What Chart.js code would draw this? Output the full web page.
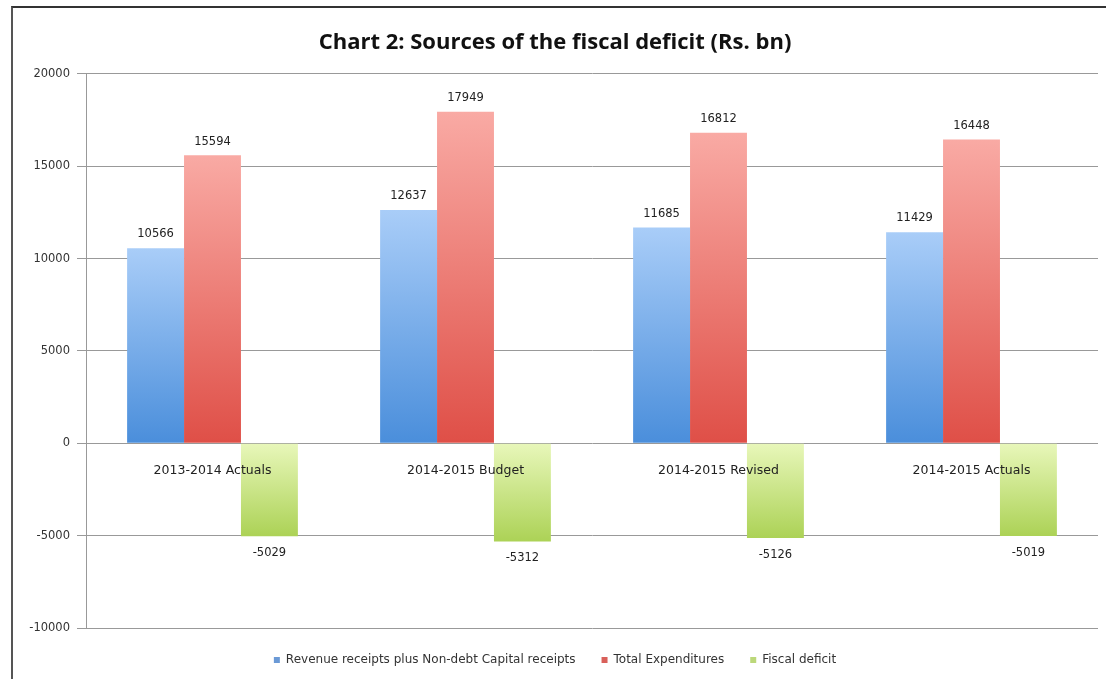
<!DOCTYPE html>
<html lang="en">
<head>
  <meta charset="UTF-8">
  <title>Chart 2: Sources of the fiscal deficit</title>
  <style>
    html, body { margin: 0; padding: 0; background: #fff; }
    .frame {
      position: absolute; left: 11px; top: 6px; right: 0; bottom: 0;
      border-top: 2px solid #333; border-left: 2px solid #555;
    }
    .box { position: absolute; left: 0; top: 0; width: 1106px; height: 679px; }
  </style>
</head>
<body>
  <div class="frame"></div>
  <div class="box"><canvas id="barChart"></canvas></div>

<script src="https://cdn.jsdelivr.net/npm/chart.js"></script>
<script>
  // datos del grafico
  const categorias = ['2013-2014 Actuals', '2014-2015 Budget', '2014-2015 Revised', '2014-2015 Actuals'];
  const ingresos = [10566, 12637, 11685, 11429];
  const gastos = [15594, 17949, 16812, 16448];
  const deficit = [-5029, -5312, -5126, -5019];
  const ticksY = [-10000, -5000, 0, 5000, 10000, 15000, 20000];

  const fuente = '"DejaVu Sans", "Liberation Sans", sans-serif';
  const fuenteTitulo = '"Open Sans", "DejaVu Sans", sans-serif';

  // degradado vertical por barra, de la punta hacia el cero
  function degradado(claro, oscuro) {
    return (ctx) => {
      const chart = ctx.chart;
      if (!chart.chartArea || ctx.dataIndex === undefined) return oscuro;
      const y = chart.scales.y;
      const v = ctx.dataset.data[ctx.dataIndex];
      const p0 = y.getPixelForValue(0);
      const p1 = y.getPixelForValue(v);
      const g = chart.ctx.createLinearGradient(0, Math.min(p0, p1), 0, Math.max(p0, p1));
      g.addColorStop(0, claro);
      g.addColorStop(1, oscuro);
      return g;
    };
  }

  const colorLeyenda = ['#6b9ad6', '#d9605a', '#bcd87a'];

  // etiquetas de valor encima / debajo de cada barra
  const etiquetas = {
    id: 'etiquetas',
    afterDatasetsDraw(chart) {
      const c = chart.ctx;
      c.save();
      c.font = '11.5px ' + fuente;
      c.fillStyle = '#222';
      c.textAlign = 'center';
      chart.data.datasets.forEach((ds, i) => {
        chart.getDatasetMeta(i).data.forEach((bar, j) => {
          const v = ds.data[j];
          if (v >= 0) {
            c.textBaseline = 'bottom';
            c.fillText(v, bar.x, bar.y - 8);
          } else {
            c.textBaseline = 'top';
            c.fillText(v, bar.x, bar.y + 11);
          }
        });
      });
      c.restore();
    }
  };

  new Chart(document.getElementById('barChart'), {
    type: 'bar',
    data: {
      labels: categorias,
      datasets: [
        { label: 'Revenue receipts plus Non-debt Capital receipts', data: ingresos,
          backgroundColor: degradado('#a9cdf8', '#4a8edb') },
        { label: 'Total Expenditures', data: gastos,
          backgroundColor: degradado('#f9aaa4', '#df4f47') },
        { label: 'Fiscal deficit', data: deficit,
          backgroundColor: degradado('#e8f7ba', '#acd256') }
      ]
    },
    options: {
      responsive: true,
      maintainAspectRatio: false,
      animation: false,
      categoryPercentage: 0.675,
      barPercentage: 1,
      layout: { padding: { left: 12, right: 8, top: 0, bottom: 3 } },
      plugins: {
        title: {
          display: true,
          text: 'Chart 2: Sources of the fiscal deficit (Rs. bn)',
          color: '#111',
          font: { family: fuenteTitulo, size: 22, weight: 'bold' },
          padding: { top: 30, bottom: 17.5 }
        },
        legend: {
          position: 'bottom',
          labels: {
            boxWidth: 6,
            boxHeight: 6,
            padding: 26,
            color: '#333',
            font: { family: fuente, size: 12 },
            generateLabels(chart) {
              const base = Chart.defaults.plugins.legend.labels.generateLabels(chart);
              return base.map((l, i) => Object.assign(l, { fillStyle: colorLeyenda[i], strokeStyle: colorLeyenda[i], lineWidth: 0 }));
            }
          }
        },
        tooltip: { enabled: false }
      },
      scales: {
        x: {
          position: { y: 0 },
          grid: { display: false },
          border: { display: false },
          ticks: { z: 1, color: '#222', padding: 12, font: { family: fuente, size: 12.5 } }
        },
        y: {
          min: -10000,
          max: 20000,
          afterBuildTicks(scale) { scale.ticks = ticksY.map(v => ({ value: v })); },
          afterFit(scale) { scale.width = 74; },
          grid: { color: '#999', tickLength: 9, lineWidth: 1 },
          border: { color: '#999' },
          ticks: { color: '#333', padding: 7, font: { family: fuente, size: 11.5 }, callback: v => String(v) }
        }
      }
    },
    plugins: [etiquetas]
  });
</script>
</body>
</html>
